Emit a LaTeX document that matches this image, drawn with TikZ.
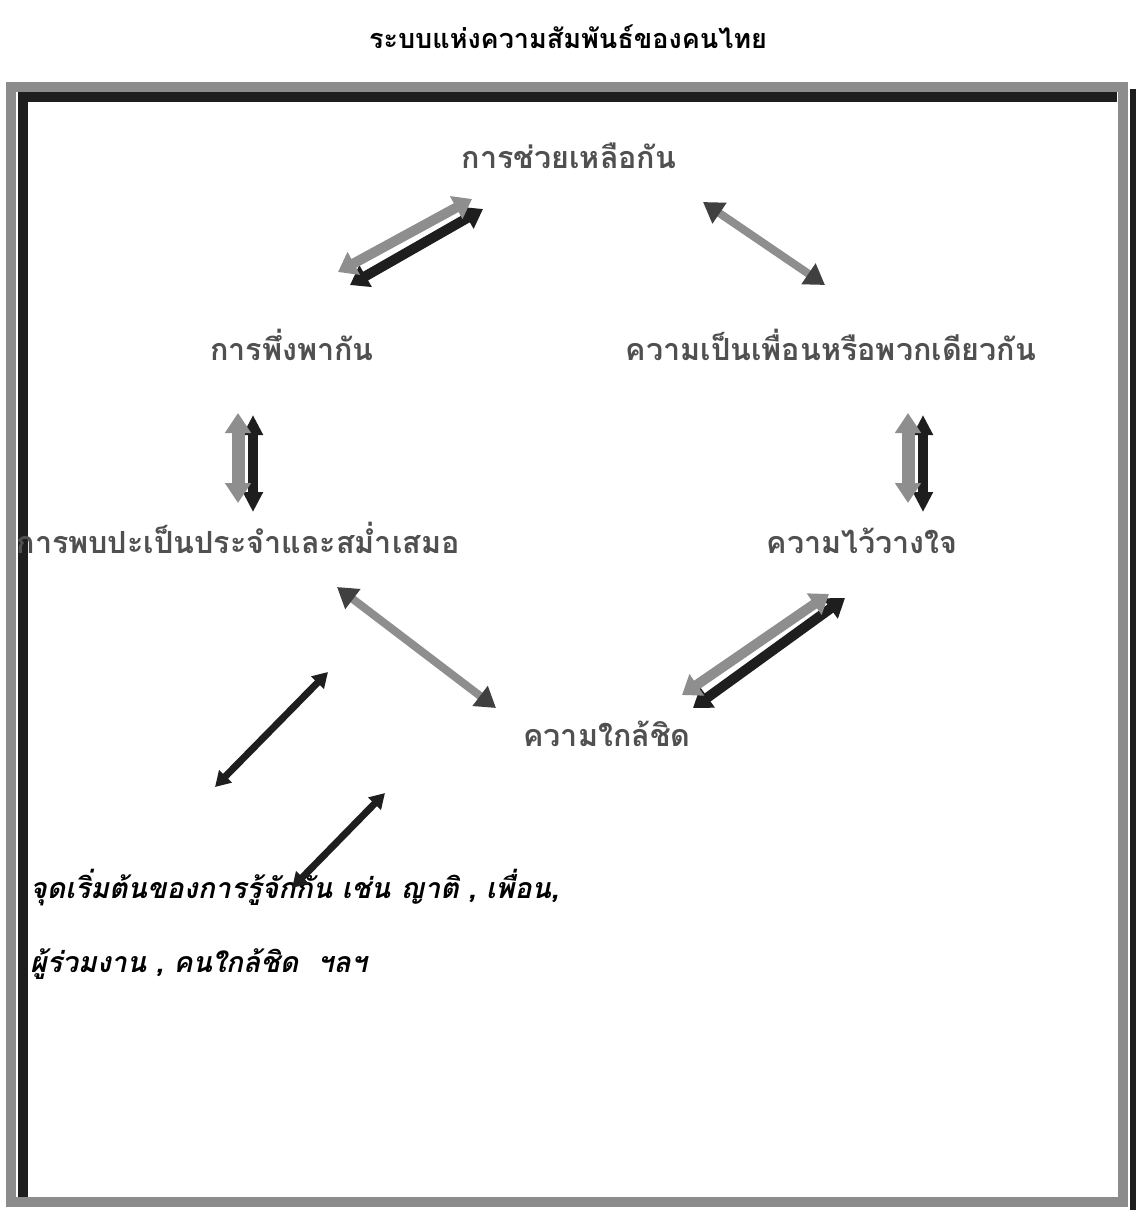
\documentclass[tikz,border=0pt]{standalone}
\usepackage{fontspec}
\usetikzlibrary{arrows.meta}
\newfontfamily\thaifont[Script=Thai]{Loma}
\definecolor{framegray}{HTML}{8C8C8C}
\definecolor{arrgray}{HTML}{8E8E8E}
\definecolor{arrdark}{HTML}{1E1E1E}
\definecolor{labgray}{HTML}{505050}
\tikzset{
  lab/.style={font=\thaifont\fontsize{30.5}{32}\selectfont\bfseries, text=labgray, anchor=base, inner sep=0pt},
  ttl/.style={font=\thaifont\fontsize{27}{30}\selectfont\bfseries, text=black, anchor=base, inner sep=0pt},
  note/.style={font=\thaifont\fontsize{28.5}{30}\selectfont\bfseries\itshape, text=black, anchor=base west, inner sep=0pt},
  garr/.style={draw=arrgray, line width=10pt, {Triangle[width=25pt,length=18pt]}-{Triangle[width=25pt,length=18pt]}},
  darr/.style={draw=arrdark, line width=10pt, {Triangle[width=24pt,length=18pt]}-{Triangle[width=24pt,length=18pt]}},
  vgarr/.style={draw=arrgray, line width=13pt, {Triangle[width=25pt,length=20pt]}-{Triangle[width=25pt,length=20pt]}},
  vdarr/.style={draw=arrdark, line width=10pt, {Triangle[width=19pt,length=20pt]}-{Triangle[width=19pt,length=20pt]}},
  garrtip/.style={draw=arrgray, line width=8pt, {Triangle[width=24pt,length=20pt,color=arrdark!85]}-{Triangle[width=24pt,length=20pt,color=arrdark!85]}},
  thinarr/.style={draw=arrdark, line width=7pt, {Triangle[width=17pt,length=15pt]}-{Triangle[width=17pt,length=15pt]}},
}
\begin{document}
\begin{tikzpicture}[x=1pt,y=-1pt]
\useasboundingbox (0,0) rectangle (1136,1210);
\fill[white] (0,0) rectangle (1136,1210);
% frame
\draw[framegray, line width=10pt] (11,87) rectangle (1123,1202);
\draw[arrdark, line width=10pt] (23,1197) -- (23,97) -- (1117,97);
\draw[arrdark, line width=6pt] (1133,89) -- (1133,1210);
% title
\node[ttl] (title) at (568,48) {ระบบแห่งความสัมพันธ์ของคนไทย};
% labels
\node[lab] (help) at (569,168) {การช่วยเหลือกัน};
\node[lab] (depend) at (292,360) {การพึ่งพากัน};
\node[lab] (friend) at (831,360) {ความเป็นเพื่อนหรือพวกเดียวกัน};
\node[lab] (meet) at (238,553) {การพบปะเป็นประจำและสม่ำเสมอ};
\node[lab] (trust) at (862,553) {ความไว้วางใจ};
\node[lab] (close) at (607,746) {ความใกล้ชิด};
\node[note] (start1) at (30,898) {จุดเริ่มต้นของการรู้จักกัน เช่น ญาติ , เพื่อน,};
\node[note] (start2) at (30,972) {ผู้ร่วมงาน , คนใกล้ชิด\ \ ฯลฯ};
% arrow end coordinates
\coordinate (a1g) at (338,272); \coordinate (b1g) at (472,199);
\coordinate (a1d) at (350,285); \coordinate (b1d) at (483,209);
\coordinate (a2) at (703,202); \coordinate (b2) at (825,285);
\coordinate (a3g) at (238,413); \coordinate (b3g) at (238,503);
\coordinate (a3d) at (253,415); \coordinate (b3d) at (253,512);
\coordinate (a4g) at (908,413); \coordinate (b4g) at (908,503);
\coordinate (a4d) at (923,415); \coordinate (b4d) at (923,512);
\coordinate (a5) at (337,587); \coordinate (b5) at (496,708);
\coordinate (a6g) at (682,695); \coordinate (b6g) at (829,594);
\coordinate (a6d) at (693,708); \coordinate (b6d) at (845,598);
\coordinate (a7) at (215,787); \coordinate (b7) at (328,672);
\coordinate (a8) at (292,888); \coordinate (b8) at (385,793);
% arrows
\draw[darr] (a1d) -- (b1d);
\draw[garr] (a1g) -- (b1g);
\draw[garrtip] (a2) -- (b2);
\draw[vdarr] (a3d) -- (b3d);
\draw[vgarr] (a3g) -- (b3g);
\draw[vdarr] (a4d) -- (b4d);
\draw[vgarr] (a4g) -- (b4g);
\draw[garrtip] (a5) -- (b5);
\draw[darr] (a6d) -- (b6d);
\draw[garr] (a6g) -- (b6g);
\draw[thinarr] (a7) -- (b7);
\draw[thinarr] (a8) -- (b8);
\end{tikzpicture}
\end{document}
